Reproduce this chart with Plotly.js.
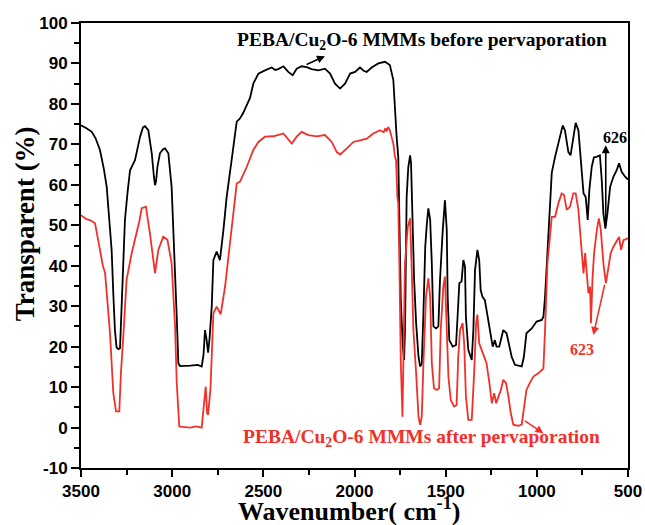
<!DOCTYPE html>
<html>
<head>
<meta charset="utf-8">
<script src="https://cdn.plot.ly/plotly-3.0.1.min.js"></script>
<style>html,body{margin:0;padding:0;background:#fff;}#chart{width:645px;height:525px;}</style>
</head>
<body>
<div id="chart"></div>
<script>
// Wavenumber (cm-1) and transmittance (%) — before pervaporation (black)
const beforeWavenumber = [3500,3470,3441,3420,3396,3375,3359,3345,3332,3323,3314,3305,3295,3286,3277,3268,3259,3245,3231,3204,3190,3176,3160,3149,3131,3112,3100,3094,3088,3081,3067,3050,3039,3021,3003,2984,2975,2966,2957,2900,2860,2838,2828,2820,2812,2803,2795,2783,2774,2756,2745,2738,2719,2701,2674,2646,2628,2610,2591,2573,2555,2527,2491,2454,2435,2418,2390,2363,2339,2317,2290,2262,2235,2198,2162,2134,2107,2079,2052,2024,1997,1970,1950,1933,1906,1869,1833,1806,1787,1778,1769,1760,1754,1746,1735,1728,1723,1714,1705,1695,1690,1681,1673,1662,1649,1640,1631,1622,1612,1603,1595,1585,1576,1567,1553,1540,1531,1516,1504,1494,1489,1480,1461,1443,1436,1425,1413,1403,1394,1389,1376,1357,1348,1339,1326,1316,1308,1298,1285,1271,1253,1242,1230,1221,1206,1193,1184,1166,1151,1138,1120,1083,1071,1057,1028,1001,973,964,955,937,918,900,882,864,858,846,827,815,800,787,772,759,744,732,721,712,699,687,672,654,644,635,624,613,598,580,562,549,535,516,500];
const beforeValues = [74.7,74.0,73.1,71.5,68.6,64,59.5,52,43.9,33.3,24.1,19.8,19.4,19.6,29.9,42,51.3,58,63.6,66.1,69,71.9,74.2,74.5,73.5,67.8,62,59.9,61,64.4,67.8,68.8,69.0,67.8,59.5,39.8,27.4,15.9,15.2,15.3,15.5,15.1,18,24.1,22,18.5,22,29.9,41.4,43.5,42,41.4,48.8,57.0,66.1,75.6,76.4,77.8,79.7,81.5,85.0,87.5,88.3,89.0,88.4,88.6,89.3,87.9,87.1,88.7,89.3,89.1,88.6,88.3,88.7,87.5,85.0,83.8,85.0,87.5,87.9,89.0,88.2,87.9,89.0,90.0,90.4,89.6,85.9,77.6,71.9,66.9,54.6,31.5,20.0,16.7,24.1,57.0,64.4,67.3,65.5,48.8,36.5,25.8,17.5,15.1,15.8,28.2,44.7,50.5,54.2,51.3,40.6,25.0,24.5,25.0,36.5,48.8,56.2,48.8,32.3,21.6,20.0,20.4,27.4,35.7,36.1,41.4,39.8,27.4,19.2,16.7,24.1,38.9,43.9,41.4,34.0,32.3,31.5,27.4,23.3,20.0,21.6,20.0,20.0,22.5,24.1,23.3,20.0,17.5,15.5,15.1,17.5,23.3,24.5,26.2,26.6,27.4,32.3,48.8,63,66.9,70,73.5,74.7,73.5,68.1,67.3,71.4,75.3,73.5,66.9,57.9,57.0,51.3,58.7,64.4,66.8,66.9,67.3,61.2,52.9,49.2,52.9,59.5,62.0,63.6,65.3,63.2,62.0,61.3];

// after pervaporation (red)
const afterWavenumber = [3500,3470,3451,3423,3396,3380,3368,3355,3341,3323,3308,3290,3281,3268,3250,3222,3195,3180,3167,3144,3122,3094,3085,3076,3049,3026,3003,2984,2975,2961,2900,2870,2838,2829,2816,2808,2803,2790,2780,2774,2756,2734,2710,2683,2646,2628,2591,2555,2527,2491,2445,2390,2363,2344,2317,2290,2253,2207,2162,2125,2097,2079,2042,2006,1970,1933,1897,1860,1840,1830,1824,1815,1806,1797,1787,1778,1772,1765,1760,1754,1746,1737,1731,1723,1708,1695,1686,1677,1662,1649,1640,1631,1622,1608,1595,1585,1576,1564,1549,1536,1527,1513,1504,1494,1485,1472,1454,1440,1431,1421,1407,1398,1389,1376,1357,1344,1333,1326,1316,1303,1290,1276,1260,1247,1234,1223,1210,1197,1184,1169,1156,1143,1129,1101,1083,1071,1057,1039,1019,992,973,964,955,942,918,900,882,864,851,836,818,800,787,772,759,744,735,726,717,708,703,695,686,671,660,649,635,621,608,595,580,562,549,538,525,500];
const afterValues = [52.5,51.5,51.3,50.5,43.9,40,38.2,31,23.4,8.6,4.0,4.0,13.5,22.5,36.5,43.1,48.0,51,54.2,54.6,48.0,38.2,41,43.9,47.2,46.4,40.6,25.0,11.0,0.25,0,0.3,0,4.4,10.1,3.5,3.2,9.5,20,28.2,29.9,28,34.8,46.3,60.3,60.8,64.4,68.6,70.6,71.9,72,72.7,71.1,70.2,71.9,73.1,72.3,72,72.3,70.6,68.1,67.5,69,70.6,71.0,71.4,72.7,73.5,73.0,74.0,73.2,74.3,73.5,71.9,70.2,66.9,66.1,57.0,55.4,41,15.9,2.7,22.5,40.6,49.6,51.7,38.9,24.1,13.4,2.7,0.7,2.7,15.9,32.3,36.9,32.3,15.9,9.7,9.3,9.7,24.1,34.8,37.3,24.1,12.6,6.8,5.2,5.6,17.5,24.1,25.8,20.4,7.7,1.9,1.9,13.4,25.8,27.9,20.8,19.2,17.5,15.9,11.0,6.0,8.5,6.0,7.7,9.3,11.8,11.0,7.7,3.6,0.7,0.4,0.7,4.4,9.3,11.0,12.6,13.4,14.2,14.6,24.1,40.6,52.1,52.1,55.4,57.9,57.5,53.8,54.6,57.9,57.9,53.8,46.3,38.1,43.1,38.1,33.2,34.8,25.8,36.5,43.1,48.8,51.7,48.8,40.6,35.7,39.7,43.1,44.7,46.3,47.1,43.9,46.3,46.8];

const xTickVals = [3500,3000,2500,2000,1500,1000,500];
const yTickVals = [-10,0,10,20,30,40,50,60,70,80,90,100];

const black = '#000000';
const red = '#f2302a';
const serif = 'Liberation Serif, Times New Roman, serif';
const sans = 'Liberation Sans, Arial, sans-serif';

const traces = [
  {x: beforeWavenumber, y: beforeValues, type: 'scatter', mode: 'lines', line: {color: black, width: 1.8}, showlegend: false, hoverinfo: 'skip'},
  {x: afterWavenumber, y: afterValues, type: 'scatter', mode: 'lines', line: {color: red, width: 1.8}, showlegend: false, hoverinfo: 'skip'}
];

const annFont = (c, s) => ({family: serif, size: s, color: c, weight: 'bold'});

const layout = {
  width: 645, height: 525,
  margin: {l: 81, r: 17, t: 23, b: 57, pad: 0},
  paper_bgcolor: '#fff', plot_bgcolor: '#fff',
  xaxis: {
    range: [3500, 500], tickvals: xTickVals, ticktext: xTickVals.map(String),
    showgrid: false, zeroline: false, showline: true, linecolor: black, linewidth: 2, mirror: true,
    ticks: 'outside', ticklen: 7, tickwidth: 2, tickcolor: black,
    minor: {tickvals: [3250,2750,2250,1750,1250,750], ticks: 'outside', ticklen: 5, tickwidth: 2, tickcolor: black},
    tickfont: {family: sans, size: 17, color: black, weight: 'bold'}
  },
  yaxis: {
    range: [-10, 100], tickvals: yTickVals, ticktext: yTickVals.map(String),
    showgrid: false, zeroline: false, showline: true, linecolor: black, linewidth: 2, mirror: true,
    ticks: 'outside', ticklen: 8, tickwidth: 2, tickcolor: black,
    minor: {dtick: 5, ticks: 'outside', ticklen: 5, tickwidth: 2, tickcolor: black},
    tickfont: {family: sans, size: 17, color: black, weight: 'bold'}
  },
  annotations: [
    // axis titles
    {x: 0.49, y: -0.135, xref: 'paper', yref: 'paper', yanchor: 'bottom', text: 'Wavenumber( cm<sup>-1</sup>)', showarrow: false, font: annFont(black, 26)},
    {x: 0, y: 0.548, xref: 'paper', yref: 'paper', xanchor: 'center', xshift: -56, textangle: -90, text: 'Transparent (%)', showarrow: false, font: annFont(black, 27)},
    // labels
    {x: 1630, y: 95.6, xref: 'x', yref: 'y', text: 'PEBA/Cu<sub>2</sub>O-6 MMMs before pervaporation', showarrow: false, font: annFont(black, 19.5)},
    {x: 2162, y: 91.8, xref: 'x', yref: 'y', ax: 2271, ay: 89.6, axref: 'x', ayref: 'y', text: '', showarrow: true, arrowhead: 2, arrowsize: 1, arrowwidth: 1.6, arrowcolor: black},
    {x: 1635, y: -2.6, xref: 'x', yref: 'y', text: 'PEBA/Cu<sub>2</sub>O-6 MMMs after pervaporation', showarrow: false, font: annFont(red, 19.5)},
    {x: 964, y: -1.4, xref: 'x', yref: 'y', ax: 1074, ay: 1.9, axref: 'x', ayref: 'y', text: '', showarrow: true, arrowhead: 2, arrowsize: 1, arrowwidth: 1.6, arrowcolor: red},
    {x: 574, y: 71.8, xref: 'x', yref: 'y', text: '626', showarrow: false, font: annFont(black, 16)},
    {x: 622, y: 69.8, xref: 'x', yref: 'y', ax: 622, ay: 49.6, axref: 'x', ayref: 'y', text: '', showarrow: true, arrowhead: 2, arrowsize: 1, arrowwidth: 1.6, arrowcolor: black},
    {x: 752, y: 19.2, xref: 'x', yref: 'y', text: '623', showarrow: false, font: annFont(red, 16)},
    {x: 690, y: 22.9, xref: 'x', yref: 'y', ax: 626, ay: 35.7, axref: 'x', ayref: 'y', text: '', showarrow: true, arrowhead: 2, arrowsize: 1, arrowwidth: 1.6, arrowcolor: red}
  ]
};

Plotly.newPlot('chart', traces, layout, {staticPlot: true, displayModeBar: false});
</script>
</body>
</html>
